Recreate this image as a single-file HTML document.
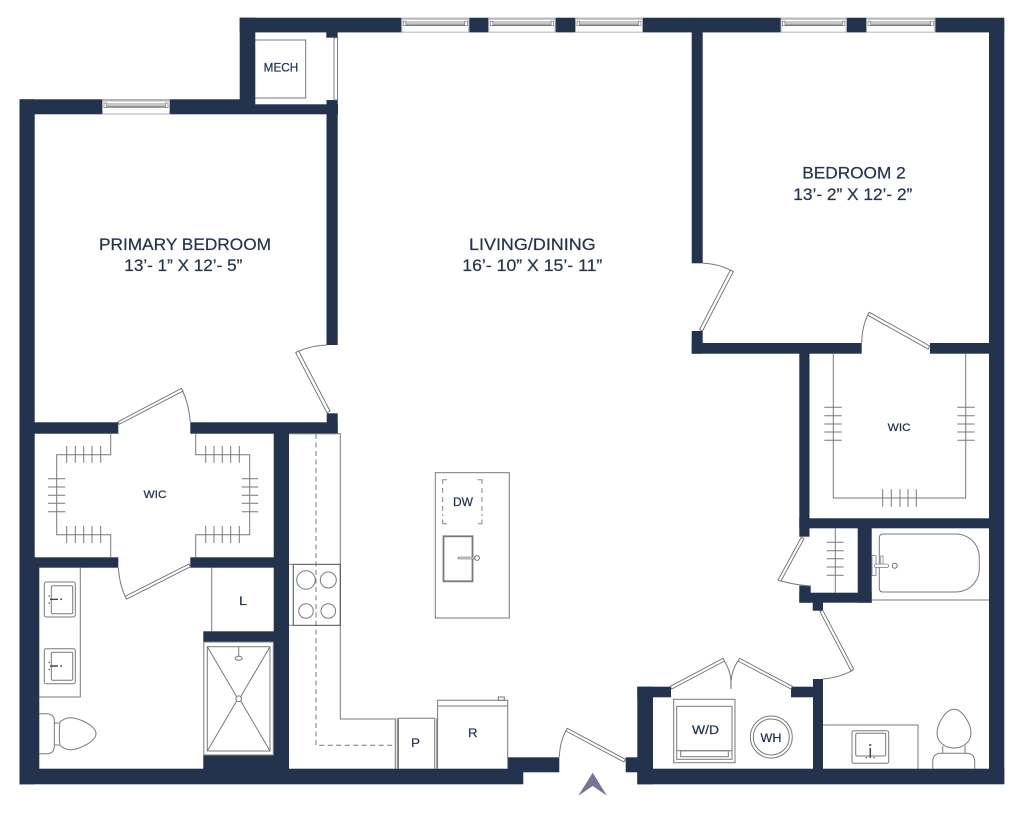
<!DOCTYPE html>
<html><head><meta charset="utf-8"><style>
html,body{margin:0;padding:0;background:#fff;width:1024px;height:813px;overflow:hidden}
svg{display:block}
text{font-family:"Liberation Sans",sans-serif;fill:#24344f;stroke:#24344f;stroke-width:.22}
.w{fill:#23334e}
.l{fill:none;stroke:#77797c;stroke-width:1}
.d{fill:none;stroke:#55575a;stroke-width:1}
.leaf{fill:#fff;stroke:#6d6f72;stroke-width:.9}
</style></head><body>
<svg width="1024" height="813" viewBox="0 0 1024 813" xmlns="http://www.w3.org/2000/svg">
<defs>
<g id="win">
<rect x="0" y="0" width="68" height="14.7" fill="#fff"/>
<rect x="0" y="0" width="68" height="2" fill="#b5b6b8"/>
<rect x="0" y="14" width="68" height=".9" fill="#a9aaac"/>
<rect x="0" y="0" width="1" height="14.7" fill="#a9aaac"/>
<rect x="67" y="0" width="1" height="14.7" fill="#a9aaac"/>
<rect x="2" y="3.5" width="64" height="4" fill="#c4c5c6"/>
<rect x="2" y="7" width="64" height="1.1" fill="#58595b"/>
<rect x="2" y="3.5" width="2.6" height="4.5" fill="#fff" stroke="#777" stroke-width=".7"/>
<rect x="63.4" y="3.5" width="2.6" height="4.5" fill="#fff" stroke="#777" stroke-width=".7"/>
</g>
</defs>

<!-- walls -->
<g class="w">
<rect x="19.5" y="99.3" width="220.5" height="15"/>
<rect x="239.7" y="17.7" width="764.6" height="14.7"/>
<rect x="239.7" y="17.7" width="15.6" height="96"/>
<rect x="240" y="104.3" width="98" height="10"/>
<rect x="326.3" y="32" width="11.4" height="5.7"/>
<rect x="326.5" y="100" width="11.2" height="245"/>
<rect x="19.5" y="99.3" width="15.2" height="685"/>
<rect x="19.5" y="567" width="19.8" height="217"/>
<rect x="19.5" y="768.7" width="503.8" height="15.6"/>
<rect x="30" y="422.3" width="88.3" height="11.4"/>
<rect x="190.3" y="422.3" width="147.4" height="11.4"/>
<rect x="326.7" y="413.3" width="11" height="20.4"/>
<rect x="30" y="557.3" width="88.3" height="10.4"/>
<rect x="190.3" y="557.3" width="90" height="10.4"/>
<rect x="273.7" y="430" width="15.3" height="345"/>
<rect x="203.3" y="631.3" width="75" height="10.4"/>
<rect x="203.3" y="755.3" width="80" height="20"/>
<rect x="507.7" y="757.3" width="51.6" height="15"/>
<rect x="625.7" y="757.3" width="15" height="15"/>
<rect x="637.3" y="686.7" width="15.7" height="97.6"/>
<rect x="637.3" y="768.7" width="367" height="15.6"/>
<rect x="637.3" y="686.7" width="33.7" height="10.6"/>
<rect x="791" y="686.7" width="32" height="10.6"/>
<rect x="813" y="679" width="10" height="95"/>
<rect x="989" y="20" width="15.3" height="764"/>
<rect x="691.7" y="20" width="11" height="243.3"/>
<rect x="691.7" y="331" width="11" height="22.7"/>
<rect x="691.7" y="343" width="170" height="10.7"/>
<rect x="930" y="343" width="65" height="10.7"/>
<rect x="799.3" y="350" width="10.2" height="186.7"/>
<rect x="799.3" y="518.3" width="195" height="10"/>
<rect x="857.7" y="525" width="14" height="77.7"/>
<rect x="799.3" y="592.7" width="72.4" height="10"/>
<rect x="799.3" y="585.7" width="11.4" height="17"/>
<rect x="812.7" y="600" width="10.3" height="10.7"/>
</g>

<!-- windows -->
<use href="#win" x="401.3" y="17.7"/>
<use href="#win" transform="translate(488.3 17.7) scale(.99 1)"/>
<use href="#win" x="575" y="17.7"/>
<use href="#win" transform="translate(780.5 17.7) scale(.975 1)"/>
<use href="#win" transform="translate(866 17.7) scale(1.02 1)"/>
<use href="#win" x="102" y="99.5"/>

<!-- mech -->
<path class="l" d="M255.3 40H305.7V98H255.3"/>
<rect x="334" y="37.7" width="3.6" height="62.3" class="leaf"/>
<text x="263.7" y="71.5" font-size="11.5" textLength="34.5" lengthAdjust="spacingAndGlyphs">MECH</text>

<!-- labels -->
<text x="99" y="250" font-size="16.6" textLength="172" lengthAdjust="spacingAndGlyphs">PRIMARY BEDROOM</text>
<text x="124.3" y="271" font-size="16.6" textLength="118" lengthAdjust="spacingAndGlyphs">13’- 1” X 12’- 5”</text>
<text x="469" y="250" font-size="16.6" textLength="126.7" lengthAdjust="spacingAndGlyphs">LIVING/DINING</text>
<text x="462.3" y="271" font-size="16.6" textLength="140" lengthAdjust="spacingAndGlyphs">16’- 10” X 15’- 11”</text>
<text x="802.3" y="178.3" font-size="16.6" textLength="103.4" lengthAdjust="spacingAndGlyphs">BEDROOM 2</text>
<text x="793.3" y="200" font-size="16.6" textLength="119" lengthAdjust="spacingAndGlyphs">13’- 2” X 12’- 2”</text>

<!-- doors -->
<g>
<path class="l" d="M327 345Q308 346 295.7 352.7"/>
<path class="leaf" d="M295.7 352.7L298.7 351L330 411L327 412.8Z"/>
<path class="l" d="M702.7 263.3Q720 264 733.3 271.7"/>
<path class="leaf" d="M733.3 271.7L730.3 270.2L699.5 329.5L702.5 331Z"/>
<path class="l" d="M861.7 343Q862 325 869.3 312.3"/>
<path class="leaf" d="M869.3 312.3L867.7 315.2L928 349L929.7 346Z"/>
<path class="l" d="M182.7 391Q189 405 190.3 422.3"/>
<path class="leaf" d="M119.3 424.3L118.2 421.6L181.5 388.4L182.9 391Z"/>
<path class="l" d="M118.3 567.7Q120 588 126.7 599"/>
<path class="leaf" d="M126.7 599L125.2 596.3L189 564L190.5 566.7Z"/>
<path class="l" d="M778 580Q794 585 810.7 586"/>
<path class="leaf" d="M801.3 537.3L804 538.8L780.7 581.3L778 580Z"/>
<path class="l" d="M852.3 670.7Q838 678 823 679"/>
<path class="leaf" d="M820 611.7L822.7 610.2L853.7 669.2L851 670.7Z"/>
<path class="l" d="M724 660.7Q732 672 731 689Q730 672 738.3 660.7"/>
<path class="leaf" d="M671.7 689L670.3 686.3L723 658.4L724.4 661.1Z"/>
<path class="leaf" d="M791 689L792.4 686.3L739.6 658.4L738.2 661.1Z"/>
<path class="l" d="M559.3 757Q560 740 567.3 728.3"/>
<path class="leaf" d="M567.3 728.3L565.8 731L624 762L625.5 759.3Z"/>
</g>

<!-- primary WIC shelves -->
<path class="l" d="M110.7 433.7V454.7H56.7V534.7H110.7V557.3M195.7 433.7V454.7H249.7V534.7H195.7V557.3"/>
<path class="l" d="M66.7 446V462.7M75.3 446V462.7M83.7 446V462.7M92 446V462.7M100.7 446V462.7M205.7 446V462.7M214 446V462.7M222.3 446V462.7M230.7 446V462.7M239.3 446V462.7M66.7 526V543M75.3 526V543M83.7 526V543M92 526V543M100.7 526V543M205.7 526V543M214 526V543M222.3 526V543M230.7 526V543M239.3 526V543M48 478.7H65.3M48 487H65.3M48 495.3H65.3M48 503.3H65.3M48 511.7H65.3M241.7 478.7H258.3M241.7 487H258.3M241.7 495.3H258.3M241.7 503.3H258.3M241.7 511.7H258.3"/>
<text x="143.5" y="498" font-size="11" textLength="23" lengthAdjust="spacingAndGlyphs">WIC</text>

<!-- primary bath -->
<path class="l" d="M39.3 697H80.3V567.7"/>
<g class="l">
<rect x="44.3" y="582" width="31" height="35" rx="2"/>
<rect x="51.3" y="585.7" width="21.4" height="28" rx="1.5"/>
<rect x="44.3" y="648.7" width="31" height="35" rx="2"/>
<rect x="51.3" y="652.3" width="21.4" height="28" rx="1.5"/>
</g>
<path d="M50 599.3H58M50 666H58" stroke="#44464a" stroke-width="1.4"/>
<g fill="#55575a"><circle cx="61.2" cy="599.3" r="1"/><circle cx="49.3" cy="596" r=".8"/><circle cx="49.3" cy="603" r=".8"/><circle cx="61.2" cy="666" r="1"/><circle cx="49.3" cy="662.5" r=".8"/><circle cx="49.3" cy="669.5" r=".8"/></g>
<path class="l" d="M39.3 713.7H47Q54.3 714 54.3 721V746Q54.3 753.7 47 753.7H39.3M54.3 723H59M54.3 745H59M60 722Q65 717.7 70 717.7C80 718 96 726 96 733.7C96 741 80 749.7 70 749.7Q65 749.7 60 745.5Q58.5 733 60 722Z"/>
<line class="l" x1="211.7" y1="567.7" x2="211.7" y2="631.3"/>
<text x="239" y="605" font-size="12" textLength="8" lengthAdjust="spacingAndGlyphs">L</text>
<!-- shower -->
<g class="l">
<rect x="203.8" y="642" width="69.5" height="113"/>
<rect x="207.3" y="646.7" width="62.7" height="104.3"/>
<path d="M207.3 646.7L236.6 696.5M270 646.7L240.8 696.5M207.3 751L236.6 701M270 751L240.8 701"/>
<circle cx="238.7" cy="698.7" r="2.8"/>
<path d="M238.7 646.7V656"/>
<ellipse cx="238.7" cy="658.3" rx="3.5" ry="2"/>
</g>

<!-- kitchen -->
<path class="l" d="M289 433.7H340.3V719H395"/>
<path d="M316 434V745.3H395" fill="none" stroke="#77797c" stroke-width="1" stroke-dasharray="5 3.5"/>
<rect x="293.3" y="564.3" width="47" height="61" fill="#fff" fill-opacity="0" stroke="#4a4c4f"/>
<path class="l" d="M289 564.3H293.3M289 625.3H293.3"/>
<g class="l"><circle cx="306" cy="580" r="9.3"/><circle cx="328.3" cy="580" r="8"/><circle cx="306" cy="611" r="7.3"/><circle cx="328.3" cy="611" r="7.3"/></g>
<path class="l" d="M395.3 718.3V769M397.3 718.3V769M398.5 718.3H434.7V769M398.5 718.3V769M436.8 718.3V769"/>
<text x="411" y="747" font-size="12" textLength="9" lengthAdjust="spacingAndGlyphs">P</text>
<path class="l" d="M437.6 769V700.3H507.7V769M437.6 706H507.7"/>
<rect x="498.3" y="697" width="6" height="3.3" class="l"/>
<text x="468" y="737" font-size="12" textLength="9.5" lengthAdjust="spacingAndGlyphs">R</text>
<!-- island -->
<rect x="435.3" y="472.7" width="74" height="145.3" class="l"/>
<path d="M442.7 484V479.7H447M477.7 479.7H482V484M442.7 519.5V523.7H447M477.7 523.7H482V519.5M442.7 488V493M442.7 497V502M442.7 506V511M442.7 514V516M482 488V493M482 497V502M482 506V511M482 514V516" fill="none" stroke="#85878a" stroke-width="1"/>
<text x="453" y="506" font-size="11.5" textLength="20" lengthAdjust="spacingAndGlyphs">DW</text>
<rect x="443.5" y="536.3" width="29" height="45" fill="none" stroke="#77797c" stroke-width="1.8"/>
<path d="M459 558H474" stroke="#6d6f72" stroke-width="2.6" stroke-linecap="round"/>
<path d="M459 558H474" stroke="#fff" stroke-width="1.1" stroke-linecap="round"/>
<circle cx="477" cy="558" r="2.4" fill="#fff" stroke="#6d6f72"/>

<!-- bedroom 2 WIC -->
<path class="l" d="M833.3 353.7V498H965.7V353.7"/>
<path class="l" d="M824.3 407.3H841.7M824.3 415.7H841.7M824.3 424H841.7M824.3 432H841.7M824.3 440.3H841.7M957.3 407.3H974.7M957.3 415.7H974.7M957.3 424H974.7M957.3 432H974.7M957.3 440.3H974.7M882.7 489.3V506.7M891.3 489.3V506.7M900 489.3V506.7M908 489.3V506.7M916.3 489.3V506.7"/>
<text x="887.7" y="431" font-size="11" textLength="23" lengthAdjust="spacingAndGlyphs">WIC</text>

<!-- linen -->
<path class="l" d="M835.3 528.3V592.7M826.7 542.3H843.7M826.7 550.7H843.7M826.7 558.7H843.7M826.7 567H843.7M826.7 575.3H843.7"/>

<!-- tub -->
<path class="l" d="M883 534H955C969 534 979.3 544 979.3 558V568C979.3 582 969 592 955 592H883Q879.3 592 879.3 588V538Q879.3 534 883 534Z"/>
<path class="l" d="M871.7 600H989"/>
<rect x="872" y="555.5" width="4" height="20" fill="#fff" stroke="#77797c" stroke-width=".8"/>
<rect x="880.7" y="556" width="2.4" height="8" fill="#fff" stroke="#77797c" stroke-width=".7"/>
<path d="M876 565.7H887" stroke="#77797c" stroke-width="4" stroke-linecap="round"/>
<path d="M876 565.7H887" stroke="#fff" stroke-width="2.6" stroke-linecap="round"/>
<circle cx="894.7" cy="565.7" r="2.5" fill="#fff" stroke="#6d6f72"/>

<!-- bath vanity -->
<path class="l" d="M823 725H918V769"/>
<g class="l">
<rect x="852" y="730.7" width="36.7" height="32.6" rx="2"/>
<rect x="855.7" y="733.3" width="30" height="22.7" rx="1.5"/>
</g>
<path d="M870.3 748V758" stroke="#44464a" stroke-width="1.5"/>
<g fill="#55575a"><circle cx="870.3" cy="745" r="1.1"/><circle cx="866.5" cy="757.5" r=".8"/><circle cx="874" cy="757.5" r=".8"/></g>
<path class="l" d="M954 709.3C945 709.3 937 725 937 733C937 742 945 748 954 748C963 748 971 742 971 733C971 725 963 709.3 954 709.3ZM942.7 746V753.3M965 746V753.3M932.7 769V762Q932.7 753.3 941 753.3H966Q974.7 753.3 974.7 762V769"/>

<!-- laundry -->
<g class="l">
<rect x="673.7" y="699.3" width="61.3" height="63.4"/>
<rect x="676.7" y="706.3" width="55.3" height="53"/>
<path d="M676.7 750.7H732"/>
<rect x="680.7" y="750.7" width="47.6" height="6"/>
<circle cx="771.3" cy="737" r="21"/>
<circle cx="771.3" cy="737" r="18"/>
</g>
<text x="692" y="734" font-size="11.5" textLength="27" lengthAdjust="spacingAndGlyphs">W/D</text>
<text x="760.5" y="742" font-size="11.5" textLength="21" lengthAdjust="spacingAndGlyphs">WH</text>

<!-- north arrow -->
<path d="M592.7 772.7L607 795.7L592.7 786L578.3 795.7Z" fill="#757792"/>
</svg>
</body></html>
